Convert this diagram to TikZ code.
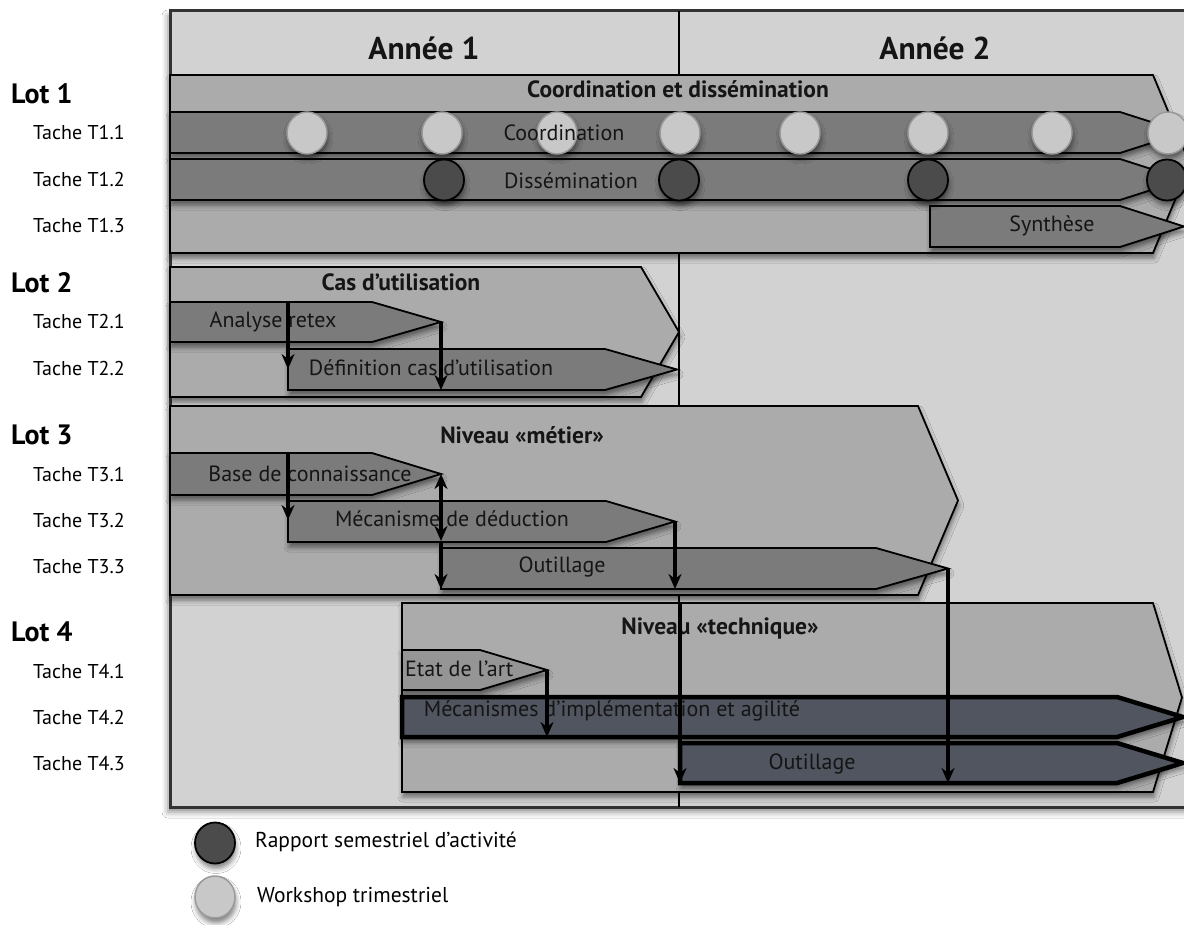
\documentclass[tikz,border=0pt]{standalone}
\usepackage{fontspec}
\setmainfont{PT Sans}
\usetikzlibrary{arrows.meta,shadows.blur,shapes.geometric}

\definecolor{bggray}{HTML}{D2D2D2}
\definecolor{lotgray}{HTML}{ABABAB}
\definecolor{taskgray}{HTML}{7B7B7B}
\definecolor{etatgray}{HTML}{959595}
\definecolor{techblue}{HTML}{50555F}
\definecolor{lightdot}{HTML}{C8C8C8}
\definecolor{lightrim}{HTML}{9A9A9A}
\definecolor{darkdot}{HTML}{4B4B4B}
\definecolor{ink}{HTML}{151515}
\definecolor{framegray}{HTML}{333333}

% chevron: style, x-left, y-top, x-corner, x-tip, y-bottom
\newcommand{\mychev}[6]{\path[#1] (#2,#3) -- (#4,#3) -- (#5,{(#3+#6)/2}) -- (#4,#6) -- (#2,#6) -- cycle;}

\tikzset{
  softshadow/.style={blur shadow={shadow xshift=1pt, shadow yshift=-5pt, shadow blur radius=5pt, shadow opacity=50}},
  lotbox/.style={fill=lotgray, draw=black, line width=1.8pt, line join=miter, softshadow},
  taskbar/.style={fill=taskgray, draw=black, line width=1.8pt, softshadow},
  etatbar/.style={fill=etatgray, draw=black, line width=1.8pt, softshadow},
  techbar/.style={fill=techblue, draw=black, line width=4.5pt, softshadow},
  workdot/.style={ellipse, fill=lightdot, draw=lightrim, line width=1.5pt, minimum width=40pt, minimum height=42pt, inner sep=0pt, softshadow},
  reportdot/.style={ellipse, fill=darkdot, draw=black, line width=1.8pt, minimum width=40pt, minimum height=41pt, inner sep=0pt, softshadow},
  yeartxt/.style={font=\fontsize{31.5}{36}\selectfont\bfseries, text=ink},
  titletxt/.style={font=\fontsize{23.5}{26}\selectfont\bfseries, text=ink},
  tasktxt/.style={font=\fontsize{22}{25}\selectfont, text=ink, inner sep=0pt},
  lottxt/.style={font=\fontsize{28}{31}\selectfont\bfseries, text=black, anchor=west, inner sep=0pt},
  tachetxt/.style={font=\fontsize{20}{23}\selectfont, text=black, anchor=west, inner sep=0pt},
  legtxt/.style={font=\fontsize{21.5}{24}\selectfont, text=black, anchor=west, inner sep=0pt},
  link/.style={line width=3.2pt, draw=black, -{Stealth[length=15pt,width=13pt]}},
  dlink/.style={line width=3.2pt, draw=black, {Stealth[length=15pt,width=13pt]}-{Stealth[length=15pt,width=13pt]}},
}

\begin{document}
\begin{tikzpicture}[x=1pt,y=-1pt]
\path[use as bounding box, clip] (0,0) rectangle (1184,925);
\fill[white] (0,0) rectangle (1184,925);

% frame and background
\path[fill=bggray, draw=framegray, line width=3pt, blur shadow={shadow xshift=-2pt, shadow yshift=-5pt, shadow blur radius=6pt, shadow opacity=45}] (170,11) rectangle (1210,807);
\draw[black, line width=1.8pt] (679,11) -- (679,807);

\node[yeartxt] (an1) at (424,48) {Année 1};
\node[yeartxt] (an2) at (935,48) {Année 2};

% ---------- Lot 1
\mychev{lotbox}{170}{75}{1153}{1190}{253}
\mychev{taskbar}{170}{112}{1120}{1184}{153}
\mychev{taskbar}{170}{159}{1120}{1184}{200}
\mychev{taskbar}{930}{206}{1120}{1184}{247}

\foreach \x [count=\i] in {307,442,557,680,800,928,1052,1168}
  \node[workdot] (w\i) at (\x,133) {};
\foreach \x [count=\i] in {444,679,928,1167}
  \node[reportdot] (r\i) at (\x,180) {};

\node[titletxt] (lot1t) at (678,89) {Coordination et dissémination};
\node[tasktxt] (t11) at (564,133) {Coordination};
\node[tasktxt] (t12) at (571,181) {Dissémination};
\node[tasktxt] (t13) at (1052,226) {Synthèse};

% ---------- Lot 2
\mychev{lotbox}{170}{267}{641}{679}{397}
\mychev{taskbar}{170}{302}{372}{441}{342}
\mychev{taskbar}{288}{349}{605}{677}{390}
\node[titletxt] (lot2t) at (401,282) {Cas d’utilisation};
\node[tasktxt] (t21) at (273,322) {Analyse retex};
\node[tasktxt] (t22) at (431,368) {Définition cas d’utilisation};

% ---------- Lot 3
\mychev{lotbox}{170}{406}{918}{958}{595}
\mychev{taskbar}{170}{453}{372}{441}{495}
\mychev{taskbar}{288}{501}{606}{675}{542}
\mychev{taskbar}{441}{548}{876}{948}{589}
\node[titletxt] (lot3t) at (522,435) {Niveau «métier»};
\node[tasktxt] (t31) at (310,474) {Base de connaissance};
\node[tasktxt] (t32) at (452,519) {Mécanisme de déduction};
\node[tasktxt] (t33) at (562,567) {Outillage};

% ---------- Lot 4
\mychev{lotbox}{402}{603}{1153}{1182}{792}
\mychev{etatbar}{402}{650}{480}{547}{690}
\mychev{techbar}{402}{697}{1117}{1183}{737}
\mychev{techbar}{680}{743}{1117}{1183}{783}
\node[titletxt] (lot4t) at (720,628) {Niveau «technique»};
\node[tasktxt, anchor=west] (t41) at (405,669) {Etat de l’art};
\node[tasktxt] (t42) at (612,711) {Mécanismes d’implémentation et agilité};
\node[tasktxt] (t43) at (812,764) {Outillage};

% ---------- dependency arrows
\coordinate (a1s) at (288,302); \coordinate (a1e) at (288,369);
\coordinate (a2s) at (441,322); \coordinate (a2e) at (441,390);
\coordinate (a3s) at (288,453); \coordinate (a3e) at (288,520);
\coordinate (a4s) at (441,474); \coordinate (a4e) at (441,541);
\coordinate (a5e) at (441,589);
\coordinate (a6s) at (675,522); \coordinate (a6e) at (675,589);
\coordinate (a7s) at (547,670); \coordinate (a7e) at (547,737);
\coordinate (a8s) at (680,603); \coordinate (a8e) at (680,783);
\coordinate (a9s) at (948,568); \coordinate (a9e) at (948,783);
\draw[link] (a1s) -- (a1e);
\draw[link] (a2s) -- (a2e);
\draw[link] (a3s) -- (a3e);
\draw[dlink] (a4s) -- (a4e);
\draw[link] (a4e) -- (a5e);
\draw[link] (a6s) -- (a6e);
\draw[link] (a7s) -- (a7e);
\draw[link] (a8s) -- (a8e);
\draw[link] (a9s) -- (a9e);

% ---------- left labels
\node[lottxt] (l1) at (11,94) {Lot 1};
\node[tachetxt] (l11) at (33,133) {Tache T1.1};
\node[tachetxt] (l12) at (33,180) {Tache T1.2};
\node[tachetxt] (l13) at (33,226) {Tache T1.3};
\node[lottxt] (l2) at (11,283) {Lot 2};
\node[tachetxt] (l21) at (33,322) {Tache T2.1};
\node[tachetxt] (l22) at (33,369) {Tache T2.2};
\node[lottxt] (l3) at (11,435) {Lot 3};
\node[tachetxt] (l31) at (33,474) {Tache T3.1};
\node[tachetxt] (l32) at (33,520) {Tache T3.2};
\node[tachetxt] (l33) at (33,567) {Tache T3.3};
\node[lottxt] (l4) at (11,632) {Lot 4};
\node[tachetxt] (l41) at (33,671) {Tache T4.1};
\node[tachetxt] (l42) at (33,717) {Tache T4.2};
\node[tachetxt] (l43) at (33,764) {Tache T4.3};

% ---------- legend
\node[reportdot] (legr) at (215,843) {};
\node[legtxt] (legrt) at (255,842) {Rapport semestriel d’activité};
\node[workdot] (legw) at (215,897) {};
\node[legtxt] (legwt) at (257,897) {Workshop trimestriel};
\end{tikzpicture}
\end{document}
